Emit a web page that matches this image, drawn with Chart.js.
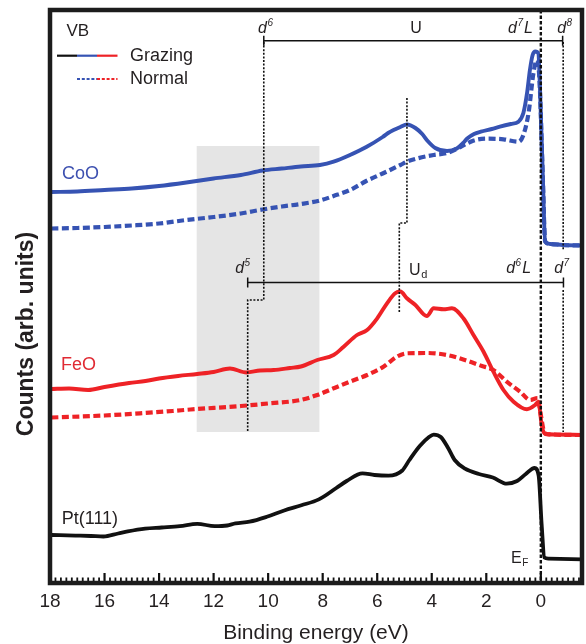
<!DOCTYPE html>
<html>
<head>
<meta charset="utf-8">
<script src="https://cdn.jsdelivr.net/npm/chart.js@4.4.1/dist/chart.umd.min.js"></script>
<style>
html,body{margin:0;padding:0;background:#fff;}
canvas{display:block;}
</style>
</head>
<body>
<canvas id="c" width="586" height="644"></canvas>
<script>
// ---------- DATA (binding energy in eV, counts in arb. units) ----------
const xTickValues = [18, 16, 14, 12, 10, 8, 6, 4, 2, 0];

const coGrazingE = [17.95,17.0,16.0,15.0,14.0,13.0,12.0,11.0,10.2,9.5,8.8,8.1,7.6,7.0,6.4,5.8,5.6,5.4,5.15,4.91,4.6,4.35,4.15,3.87,3.44,3.08,2.85,2.7,2.45,2.2,1.8,1.5,1.1,0.82,0.64,0.5,0.4,0.3,0.2,0.09,0.03,-0.07,-0.16,-0.35,-0.8,-1.51];
const coGrazing  = [391,391.5,393,394.5,397,400.5,404.5,408,412.5,414.5,416.5,418,421.3,428,436,446,450,453,456,458.5,455,449,442,435,432,434.5,440,444.5,449,451.3,454,456.3,459,461.3,470,491,513,528,531.5,529.5,493,410,341.5,339,338,337.5];

const coNormalE = [17.95,17.0,16.0,15.0,14.0,13.0,12.0,11.0,10.2,9.5,8.8,8.1,7.6,7.0,6.4,5.8,5.15,4.91,4.54,3.93,3.44,2.95,2.46,1.98,1.37,0.82,0.64,0.45,0.27,0.15,0.05,-0.07,-0.16,-0.35,-0.8,-1.51];
const coNormal  = [354.5,355,356,357.5,359.5,363,366,369.5,373.5,376.5,379,382.5,387,393,402,409.5,418,421.3,424.5,428,430,436,442.5,444.3,443.7,441.3,448,470,510,523,503,408,341.5,339,338,337.5];

const feGrazingE = [17.95,17.3,16.6,16.0,15.1,14.5,14.0,13.3,12.6,12.0,11.4,10.8,10.3,9.8,9.2,8.8,8.2,7.6,7.23,6.74,6.37,6.0,5.64,5.34,5.15,4.91,4.6,4.18,3.93,3.57,3.26,2.84,2.47,2.1,1.74,1.37,1.0,0.51,0.21,0.09,-0.04,-0.16,-0.5,-1.51];
const feGrazing  = [194,194.5,193,196,200,202,204.5,207,209,211,214.5,210.5,212.5,213,215,216.5,223,228,236.3,248,253,264.7,279.7,289.7,291.5,284.7,278,267,274.7,273.7,274.7,264.7,248,231.3,211.3,193,181.3,173.7,178,181.3,156.3,149,148.5,148];

const feNormalE = [17.95,16.0,14.7,13.5,12.85,11.0,10.0,8.82,8.2,7.6,7.0,6.37,5.77,5.28,4.91,4.18,3.44,2.71,2.16,1.74,1.25,0.76,0.39,0.12,0.0,-0.1,-0.2,-1.51];
const feNormal  = [165.5,167.5,169.7,172,173.5,177,179.5,183,188,194.7,201.3,208,216.3,226.3,229.7,230,228,222.3,217,213,201.3,191.3,183,185,168,153,149,148];

const ptE = [17.95,17.07,16.5,16.04,15.5,15.15,14.51,13.9,13.24,12.6,11.96,11.5,11.2,10.68,10.05,9.41,8.78,8.14,7.5,7.12,6.54,6.1,5.59,5.08,4.82,4.44,4.1,3.93,3.67,3.4,3.16,2.78,2.27,1.76,1.25,0.87,0.55,0.23,0.08,-0.03,-0.13,-0.28,-1.51];
const ptGrazing = [48,47.4,47,46.5,49.5,51.6,54.4,55.5,56.8,59.2,56.8,57.5,59.6,61.3,66.2,72.5,77.7,83.6,95,102,109.7,108,107.3,112.5,123,137,146,148.4,146,135,123,114.3,109,105.5,99.3,102,109,115,107.3,58.5,25.5,24.4,23.7];

// annotation geometry (eV, counts)
const shadeE = [12.62, 8.12];
const shadeV = [437, 151];
const d6PathE = [10.16, 10.16, 10.75, 10.75];
const d6PathV = [541, 283, 283, 151];
const uPathE  = [4.91, 4.91, 5.19, 5.19];
const uPathV  = [485, 360, 360, 271];
const d8PathE = [-0.82, -0.82];
const d8PathV = [541, 333];
const d7PathE = [-0.82, -0.82];
const d7PathV = [293, 151];
const uBarE = [10.16, -0.80];
const uBarV = 542.3;
const udBarE = [10.75, -0.83];
const udBarV = 300.5;
const fermiE = 0;

// text annotations: [E (left edge), counts (baseline)]
const labelD6  = [10.37, 550];
const labelU   = [4.79, 550];
const labelD7L = [1.20, 550];
const labelD8  = [-0.60, 550];
const labelD5  = [11.21, 310];
const labelUd  = [4.83, 308];
const labelD6L = [1.27, 310];
const labelD7  = [-0.49, 310];
const labelCoO = [17.56, 404];
const labelFeO = [17.60, 213];
const labelPt  = [17.57, 59];
const labelEF  = [1.09, 20];
const yTitle = 'Counts (arb. units)';
const xTitle = 'Binding energy (eV)';

// ---------- STYLE ----------
const FONT = "'Liberation Sans', Arial, Helvetica, sans-serif";
const BLUE = '#3653b3';
const RED = '#ee2226';
const BLACK = '#111111';
const TEXT = '#231f20';

function pts(E, V) { return E.map((e, i) => ({ x: e, y: V[i] })); }

const datasets = [
  { label: 'Pt(111) grazing', data: pts(ptE, ptGrazing), borderColor: BLACK, borderWidth: 3.8 },
  { label: 'FeO normal', data: pts(feNormalE, feNormal), borderColor: RED, borderWidth: 4.2, borderDash: [7, 3.5] },
  { label: 'FeO grazing', data: pts(feGrazingE, feGrazing), borderColor: RED, borderWidth: 3.9 },
  { label: 'CoO normal', data: pts(coNormalE, coNormal), borderColor: BLUE, borderWidth: 4.2, borderDash: [7, 3.5] },
  { label: 'CoO grazing', data: pts(coGrazingE, coGrazing), borderColor: BLUE, borderWidth: 3.9 }
].map(d => Object.assign(d, { pointRadius: 0, fill: false, tension: 0.25, cubicInterpolationMode: 'monotone' }));

function path(ctx, xs, ys, E, V) {
  ctx.beginPath();
  E.forEach((e, i) => {
    const px = xs.getPixelForValue(e), py = ys.getPixelForValue(V[i]);
    if (i === 0) ctx.moveTo(px, py); else ctx.lineTo(px, py);
  });
  ctx.stroke();
}

function drawDLabel(ctx, x, y, sup, withL) {
  ctx.textAlign = 'left';
  ctx.textBaseline = 'alphabetic';
  ctx.font = 'italic 16px ' + FONT;
  ctx.fillText('d', x, y);
  let w = ctx.measureText('d').width;
  ctx.font = 'italic 10px ' + FONT;
  ctx.fillText(sup, x + w + 0.5, y - 7);
  w += ctx.measureText(sup).width + 0.5;
  if (withL) {
    ctx.font = 'italic 16px ' + FONT;
    ctx.fillText('L', x + w + 1, y);
  }
}

const decorPlugin = {
  id: 'decor',
  beforeDatasetsDraw(chart) {
    const { ctx, scales: { x, y } } = chart;
    ctx.save();
    ctx.fillStyle = '#e5e5e5';
    const x1 = x.getPixelForValue(shadeE[0]), x2 = x.getPixelForValue(shadeE[1]);
    const y1 = y.getPixelForValue(shadeV[0]), y2 = y.getPixelForValue(shadeV[1]);
    ctx.fillRect(x1, y1, x2 - x1, y2 - y1);
    ctx.restore();
  },
  afterDatasetsDraw(chart) {
    const { ctx, chartArea: ca, scales: { x, y } } = chart;
    ctx.save();
    // dotted guide lines
    ctx.strokeStyle = BLACK;
    ctx.lineWidth = 1.6;
    ctx.setLineDash([2, 1.6]);
    path(ctx, x, y, d6PathE, d6PathV);
    path(ctx, x, y, uPathE, uPathV);
    path(ctx, x, y, d8PathE, d8PathV);
    path(ctx, x, y, d7PathE, d7PathV);
    // Fermi level
    ctx.lineWidth = 2.4;
    ctx.setLineDash([3.5, 2]);
    const fx = x.getPixelForValue(fermiE);
    ctx.beginPath(); ctx.moveTo(fx, ca.top); ctx.lineTo(fx, ca.bottom); ctx.stroke();
    ctx.setLineDash([]);
    // bars
    ctx.lineWidth = 1.5;
    [[uBarE, uBarV], [udBarE, udBarV]].forEach(([E, v]) => {
      const a = x.getPixelForValue(E[0]), b = x.getPixelForValue(E[1]), py = y.getPixelForValue(v);
      ctx.beginPath();
      ctx.moveTo(a, py); ctx.lineTo(b, py);
      ctx.moveTo(a, py - 5); ctx.lineTo(a, py + 5);
      ctx.moveTo(b, py - 5); ctx.lineTo(b, py + 5);
      ctx.stroke();
    });
    // labels
    ctx.fillStyle = TEXT;
    const P = (l) => [x.getPixelForValue(l[0]), y.getPixelForValue(l[1])];
    let p;
    p = P(labelD6);  drawDLabel(ctx, p[0], p[1], '6', false);
    p = P(labelD7L); drawDLabel(ctx, p[0], p[1], '7', true);
    p = P(labelD8);  drawDLabel(ctx, p[0], p[1], '8', false);
    p = P(labelD5);  drawDLabel(ctx, p[0], p[1], '5', false);
    p = P(labelD6L); drawDLabel(ctx, p[0], p[1], '6', true);
    p = P(labelD7);  drawDLabel(ctx, p[0], p[1], '7', false);
    ctx.textAlign = 'left'; ctx.textBaseline = 'alphabetic';
    ctx.font = '16px ' + FONT;
    p = P(labelU);  ctx.fillText('U', p[0], p[1]);
    p = P(labelUd); ctx.fillText('U', p[0], p[1]);
    let w = ctx.measureText('U').width;
    ctx.font = '11px ' + FONT; ctx.fillText('d', p[0] + w + 0.5, p[1] + 3);
    ctx.font = '16px ' + FONT;
    p = P(labelEF); ctx.fillText('E', p[0], p[1]);
    w = ctx.measureText('E').width;
    ctx.font = '10px ' + FONT; ctx.fillText('F', p[0] + w + 0.5, p[1] + 3);
    ctx.font = '18px ' + FONT;
    ctx.fillStyle = '#3d50b0'; p = P(labelCoO); ctx.fillText('CoO', p[0], p[1]);
    ctx.fillStyle = '#e02a33'; p = P(labelFeO); ctx.fillText('FeO', p[0], p[1]);
    ctx.fillStyle = TEXT; p = P(labelPt); ctx.fillText('Pt(111)', p[0], p[1]);

    // legend
    const lx = ca.left, ly = ca.top;
    ctx.font = '17px ' + FONT; ctx.fillStyle = TEXT; ctx.textBaseline = 'middle';
    ctx.fillText('VB', lx + 16.5, ly + 21);
    ctx.font = '18px ' + FONT;
    ctx.fillText('Grazing', lx + 80, ly + 46);
    ctx.fillText('Normal', lx + 80, ly + 69.5);
    ctx.lineWidth = 2.2;
    const seg = (x0, x1, yy, col, dash) => {
      ctx.strokeStyle = col; ctx.setLineDash(dash);
      ctx.beginPath(); ctx.moveTo(lx + x0, ly + yy); ctx.lineTo(lx + x1, ly + yy); ctx.stroke();
    };
    seg(7, 27, 45.7, BLACK, []);
    seg(27, 47, 45.7, BLUE, []);
    seg(47, 67.5, 45.7, RED, []);
    ctx.lineWidth = 1.8;
    seg(27, 47, 69, BLUE, [3, 1.8]);
    seg(47, 67.5, 69, RED, [3, 1.8]);
    ctx.setLineDash([]);

    // y-axis title
    ctx.save();
    ctx.translate(ca.left - 23, ca.top + 324);
    ctx.rotate(-Math.PI / 2);
    ctx.textAlign = 'center'; ctx.textBaseline = 'middle';
    ctx.font = 'bold 23px ' + FONT; ctx.fillStyle = TEXT;
    ctx.fillText(yTitle, 0, 0);
    ctx.restore();

    // bottom ticks (inward)
    ctx.strokeStyle = BLACK;
    for (let i = 0; i * 0.2 <= 18 - x.min + 1e-6; i++) {
      const v = 18 - i * 0.2;
      const major = i % 10 === 0;
      const px = x.getPixelForValue(v);
      ctx.lineWidth = major ? 2.2 : 1.8;
      ctx.beginPath();
      ctx.moveTo(px, ca.bottom - 1);
      ctx.lineTo(px, ca.bottom - (major ? 10 : 5.5));
      ctx.stroke();
    }
    // frame
    ctx.lineWidth = 4.5;
    ctx.strokeStyle = '#1c1c1c';
    ctx.strokeRect(ca.left, ca.top, ca.right - ca.left, ca.bottom - ca.top);
    ctx.restore();
  }
};

new Chart(document.getElementById('c'), {
  type: 'line',
  data: { datasets },
  plugins: [decorPlugin],
  options: {
    responsive: false,
    animation: false,
    events: [],
    layout: { padding: { left: 50, right: 4, top: 10, bottom: 0 } },
    plugins: { legend: { display: false }, tooltip: { enabled: false } },
    scales: {
      x: {
        type: 'linear', reverse: true, min: -1.51, max: 18,
        afterBuildTicks: (s) => { s.ticks = xTickValues.map(v => ({ value: v })); },
        grid: { display: false, drawTicks: false, tickLength: 0 },
        border: { display: false },
        ticks: { autoSkip: false, maxRotation: 0, padding: 9.5, color: TEXT, font: { family: FONT, size: 19, lineHeight: 1 }, callback: (v) => String(v) },
        title: { display: true, text: xTitle, color: TEXT, font: { family: FONT, size: 21, lineHeight: 1 }, padding: { top: 2, bottom: 0 } }
      },
      y: {
        display: false,
        min: 0, max: 573
      }
    }
  }
});
</script>
</body>
</html>
